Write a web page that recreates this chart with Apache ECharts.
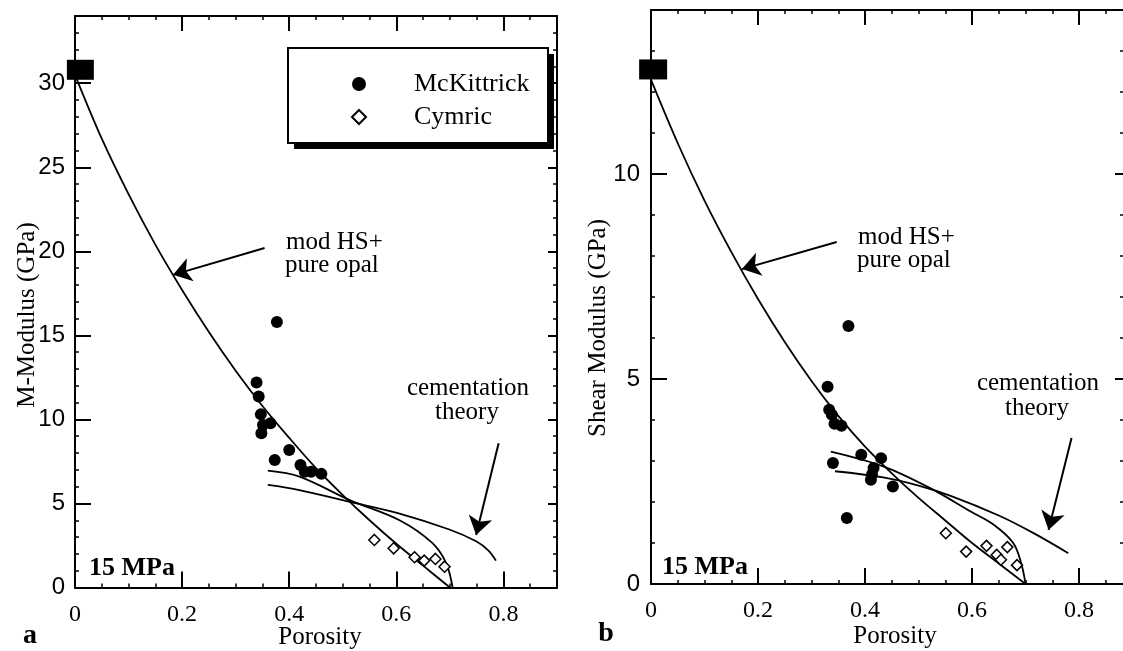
<!DOCTYPE html>
<html>
<head>
<meta charset="utf-8">
<script src="https://cdn.jsdelivr.net/npm/echarts@6/dist/echarts.min.js"></script>
<style>
html, body { margin: 0; padding: 0; background: #fff; }
#chart { width: 1123px; height: 651px; }
</style>
</head>
<body>
<div id="chart"></div>
<script>
// tick labels
const xTicks = [0, 0.2, 0.4, 0.6, 0.8];
const mTicks = [0, 5, 10, 15, 20, 25, 30];
const gTicks = [0, 5, 10];

// panel a : M-modulus (GPa) vs porosity
const opalM = [[0.01, 30.8]];
const mckM = [[0.377, 15.8], [0.339, 12.2], [0.343, 11.36], [0.347, 10.3], [0.365, 9.77], [0.351, 9.67],
  [0.348, 9.18], [0.40, 8.18], [0.373, 7.59], [0.421, 7.29], [0.429, 6.89], [0.441, 6.89], [0.46, 6.76]];
const cymM = [[0.559, 2.83], [0.595, 2.33], [0.634, 1.80], [0.652, 1.60], [0.673, 1.70], [0.69, 1.24]];
const hsM = [[0, 30.5], [0.05, 26.7], [0.1, 23.4], [0.15, 20.4], [0.2, 17.7], [0.25, 15.2], [0.3, 12.9],
  [0.35, 10.8], [0.4, 8.9], [0.45, 7.1], [0.5, 5.5], [0.55, 4.0], [0.6, 2.6], [0.65, 1.3], [0.7, 0]];
const cemUpperM = [[0.36, 6.95], [0.419, 6.6], [0.513, 5.2], [0.606, 4.0], [0.667, 2.65], [0.693, 1.45], [0.705, 0]];
const cemLowerM = [[0.36, 6.1], [0.419, 5.8], [0.513, 5.1], [0.606, 4.4], [0.699, 3.45], [0.749, 2.75], [0.772, 2.2], [0.786, 1.6]];

// panel b : shear modulus (GPa) vs porosity
const opalG = [[0.004, 12.55]];
const mckG = [[0.369, 6.29], [0.33, 4.81], [0.333, 4.25], [0.338, 4.13], [0.343, 3.91], [0.356, 3.86],
  [0.393, 3.15], [0.34, 2.95], [0.43, 3.07], [0.416, 2.83], [0.413, 2.67], [0.411, 2.54], [0.452, 2.38], [0.366, 1.61]];
const cymG = [[0.551, 1.24], [0.589, 0.79], [0.627, 0.93], [0.646, 0.71], [0.666, 0.9], [0.654, 0.59], [0.684, 0.46]];
const hsG = [[0, 12.3], [0.05, 10.75], [0.1, 9.35], [0.15, 8.1], [0.2, 6.95], [0.25, 5.9], [0.3, 4.95], [0.35, 4.1],
  [0.4, 3.35], [0.45, 2.7], [0.5, 2.1], [0.55, 1.55], [0.6, 1.0], [0.65, 0.5], [0.7, 0]];
const cemUpperG = [[0.336, 3.23], [0.434, 2.87], [0.52, 2.35], [0.6, 1.75], [0.64, 1.45], [0.677, 1.0], [0.692, 0.5], [0.7, 0]];
const cemLowerG = [[0.344, 2.75], [0.434, 2.6], [0.5, 2.4], [0.56, 2.15], [0.65, 1.67], [0.715, 1.24], [0.78, 0.75]];

const serif = '"Liberation Serif", "Times New Roman", serif';
const sans = '"Liberation Sans", Arial, sans-serif';
const black = '#000';

function onList(list, v) {
  return list.some(t => Math.abs(t - v) < 1e-6);
}

function xAxis(grid, max, pos) {
  const bottom = pos === 'bottom';
  return {
    type: 'value', gridIndex: grid, position: pos, min: 0, max: max, interval: 0.2,
    axisLine: { show: true, onZero: false, lineStyle: { color: black, width: 2 } },
    axisTick: { show: true, inside: true, length: bottom ? 16 : 15, lineStyle: { color: black, width: 2 } },
    minorTick: { show: true, splitNumber: 4, length: 4, lineStyle: { color: black, width: 1.5 } },
    axisLabel: {
      show: bottom, margin: 15, color: black, fontFamily: serif, fontSize: 24,
      formatter: v => onList(xTicks, v) ? String(v) : ''
    },
    splitLine: { show: false }
  };
}

function yAxis(grid, max, pos, ticks, margin) {
  const left = pos === 'left';
  return {
    type: 'value', gridIndex: grid, position: pos, min: 0, max: max, interval: 5,
    axisLine: { show: true, onZero: false, lineStyle: { color: black, width: 2 } },
    axisTick: { show: true, inside: true, length: left ? 16 : 9, lineStyle: { color: black, width: 2 } },
    minorTick: { show: true, splitNumber: 5, length: 4, lineStyle: { color: black, width: 1.5 } },
    axisLabel: {
      show: left, margin: margin, color: black, fontFamily: sans, fontSize: 24,
      formatter: v => onList(ticks, v) ? String(v) : ''
    },
    splitLine: { show: false }
  };
}

function curve(name, data, xi, extra) {
  return Object.assign({
    name: name, type: 'line', xAxisIndex: xi, yAxisIndex: xi, data: data,
    smooth: 0.35, showSymbol: false, symbol: 'none', silent: true,
    lineStyle: { color: black, width: 1.8 }, z: 2
  }, extra || {});
}

function arrow(from, to) {
  return [{ coord: from }, { coord: to }];
}

const arrowStyle = {
  silent: true, symbol: ['none', 'arrow'], symbolSize: 18,
  lineStyle: { color: black, width: 2, type: 'solid' },
  label: { show: false }, emphasis: { disabled: true }
};

function txt(x, y, s, o) {
  return Object.assign({
    type: 'text', x: x, y: y, silent: true,
    style: Object.assign({
      text: s, fill: black, font: '25px ' + serif, textAlign: 'left', textVerticalAlign: 'middle'
    }, (o && o.style) || {})
  }, o && o.rotation !== undefined ? { rotation: o.rotation } : {});
}

function dots(name, data, xi, symbol, size, style) {
  return {
    name: name, type: 'scatter', xAxisIndex: xi, yAxisIndex: xi, data: data,
    symbol: symbol, symbolSize: size, itemStyle: Object.assign({ opacity: 1 }, style), z: 4,
    emphasis: { disabled: true }
  };
}

const filled = { color: black };
const hollow = { color: '#fff', borderColor: black, borderWidth: 1.5 };

const chart = echarts.init(document.getElementById('chart'));

chart.setOption({
  animation: false,
  backgroundColor: '#fff',
  grid: [
    { left: 75, top: 16, width: 482, height: 571.5, containLabel: false, outerBoundsMode: 'none' },
    { left: 651, top: 10, width: 473, height: 574, containLabel: false, outerBoundsMode: 'none' }
  ],
  xAxis: [
    xAxis(0, 0.9, 'bottom'), xAxis(0, 0.9, 'top'),
    xAxis(1, 0.884, 'bottom'), xAxis(1, 0.884, 'top')
  ],
  yAxis: [
    yAxis(0, 34, 'left', mTicks, 10), yAxis(0, 34, 'right', mTicks, 10),
    yAxis(1, 14, 'left', gTicks, 11), yAxis(1, 14, 'right', gTicks, 11)
  ],
  legend: {
    left: 346, top: 66, orient: 'vertical', itemWidth: 14, itemHeight: 14, itemGap: 7,
    selectedMode: false, z: 10,
    data: [{ name: 'McKittrick', icon: 'circle' }, { name: 'Cymric', icon: 'diamond' }],
    textStyle: { fontFamily: serif, fontSize: 26, color: black, lineHeight: 22, padding: [0, 0, 0, 43] }
  },
  graphic: [
    { type: 'rect', shape: { x: 294, y: 54, width: 260, height: 95 }, style: { fill: black }, z: 5, silent: true },
    { type: 'rect', shape: { x: 288, y: 48, width: 260, height: 95 }, style: { fill: '#fff', stroke: black, lineWidth: 2 }, z: 6, silent: true },
    txt(286, 242, 'mod HS+'),
    txt(285, 265, 'pure opal'),
    txt(858, 237, 'mod HS+'),
    txt(857, 260, 'pure opal'),
    txt(468, 388, 'cementation', { style: { textAlign: 'center' } }),
    txt(467, 412, 'theory', { style: { textAlign: 'center' } }),
    txt(1038, 383, 'cementation', { style: { textAlign: 'center' } }),
    txt(1037, 408, 'theory', { style: { textAlign: 'center' } }),
    txt(89, 568, '15 MPa', { style: { font: 'bold 26px ' + serif } }),
    txt(662, 567, '15 MPa', { style: { font: 'bold 26px ' + serif } }),
    txt(30, 636, 'a', { style: { font: 'bold 28px ' + serif, textAlign: 'center' } }),
    txt(606, 634, 'b', { style: { font: 'bold 28px ' + serif, textAlign: 'center' } }),
    txt(320, 637, 'Porosity', { style: { textAlign: 'center' } }),
    txt(895, 636, 'Porosity', { style: { textAlign: 'center' } }),
    txt(27, 315, 'M-Modulus (GPa)', { rotation: Math.PI / 2, style: { textAlign: 'center' } }),
    txt(598, 328, 'Shear Modulus (GPa)', { rotation: Math.PI / 2, style: { textAlign: 'center' } })
  ],
  series: [
    curve('HS+ M', hsM, 0, {
      markLine: Object.assign({}, arrowStyle, {
        data: [arrow([0.354, 20.2], [0.183, 18.6]), arrow([0.791, 8.58], [0.749, 3.13])]
      })
    }),
    curve('cementation upper M', cemUpperM, 0),
    curve('cementation lower M', cemLowerM, 0),
    dots('opal M', opalM, 0, 'rect', [27, 20], filled),
    dots('McKittrick', mckM, 0, 'circle', 12, filled),
    dots('Cymric', cymM, 0, 'diamond', 11, hollow),

    curve('HS+ G', hsG, 2, {
      markLine: Object.assign({}, arrowStyle, {
        data: [arrow([0.347, 8.34], [0.17, 7.68]), arrow([0.786, 3.56], [0.743, 1.32])]
      })
    }),
    curve('cementation upper G', cemUpperG, 2),
    curve('cementation lower G', cemLowerG, 2),
    dots('opal G', opalG, 2, 'rect', [28, 20], filled),
    dots('McKittrick', mckG, 2, 'circle', 12, filled),
    dots('Cymric', cymG, 2, 'diamond', 11, hollow)
  ]
});

window.addEventListener('resize', () => {
  chart.resize();
});
</script>
</body>
</html>
